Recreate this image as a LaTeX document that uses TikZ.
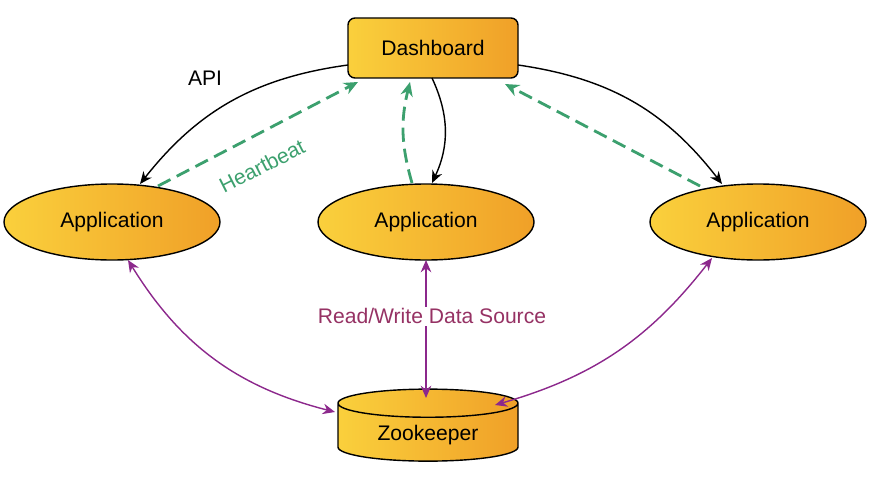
\documentclass[tikz,border=0pt]{standalone}
\usepackage{fontspec}
\setmainfont{Liberation Sans}
\usetikzlibrary{shapes.geometric,arrows.meta}
\definecolor{hb}{RGB}{60,160,110}
\definecolor{pur}{RGB}{140,40,140}
\definecolor{rw}{RGB}{150,50,100}
\definecolor{gy}{RGB}{250,208,60}
\definecolor{go}{RGB}{240,160,40}
\begin{document}
\begin{tikzpicture}[x=0.02cm,y=-0.02cm,font=\fontsize{12}{14}\selectfont,
  fillg/.style={left color=gy, right color=go, draw=black, line width=0.8pt},
  app/.style={ellipse, fillg, minimum width=216*0.02cm, minimum height=76*0.02cm},
  api/.style={-{Stealth[length=7pt,width=6pt]}, line width=0.8pt},
  hbt/.style={-{Stealth[length=8pt,width=7pt]}, draw=hb, line width=1.6pt, dash pattern=on 8pt off 4pt},
  rwa/.style={{Stealth[length=7pt,width=6pt]}-{Stealth[length=7pt,width=6pt]}, draw=pur, line width=0.8pt}]
\useasboundingbox (0,0) rectangle (874,486);
\node[fillg, rounded corners=4pt, minimum width=170*0.02cm, minimum height=60*0.02cm] (dash) at (433,48) {Dashboard};
\node[app] (a1) at (112,222) {Application};
\node[app] (a2) at (426,222) {Application};
\node[app] (a3) at (758,222) {Application};
\node[cylinder, shape border rotate=90, aspect=0.25, fillg, minimum width=180*0.02cm, minimum height=72*0.02cm] (zk) at (428,435) {\raisebox{-4pt}{Zookeeper}};
% API arrows
\draw[api] (348,65) to[bend right=22] (140,184);
\node at (205,78) {API};
\draw[api] (432,78) to[bend left=25] (432,183);
\draw[api] (518,65) to[bend left=22] (722,184);
% heartbeat
\draw[hbt] (158,186) -- (358,82);
\node[text=hb, rotate=27] at (262,166) {Heartbeat};
\draw[hbt] (412,183) to[bend left=15] (410,82);
\draw[hbt] (700,186) -- (505,84);
% purple
\draw[rwa] (128,260) to[bend right=22] (335,412);
\draw[rwa] (426,260) -- (426,398);
\draw[rwa] (712,258) to[bend left=18] (495,405);
\node[text=rw, fill=white, inner sep=1pt] at (432,316) {Read/Write Data Source};
\end{tikzpicture}
\end{document}
